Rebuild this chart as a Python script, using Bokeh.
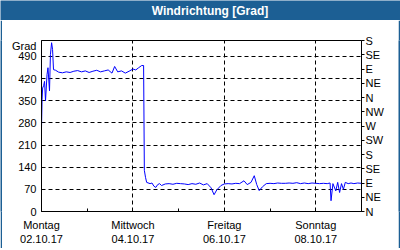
from bokeh.plotting import figure
from bokeh.models import LinearAxis, FixedTicker, Range1d
from bokeh.layouts import column, row
from bokeh.core.properties import value
from bokeh.embed import file_html
from bokeh.resources import INLINE

# ---- data (hours since Mon 02.10.17 00:00, wind direction in degrees) ----
hours = [0, 0.3, 0.6, 1.1, 1.6, 2.1, 2.9, 3.4, 4.2, 4.7, 5.3, 5.8, 6.3, 7.4,
         9, 11, 13, 15, 17, 19, 21, 23, 25, 27, 29, 31, 33, 35, 37, 38.4,
         40, 42, 44, 46, 48, 49.5, 51, 52.6, 53.6, 54, 54.6, 55.2, 57, 58,
         59, 60, 61, 62, 63, 65, 67, 69, 71, 73, 75, 77, 79, 81, 83, 85, 87,
         89, 90.6, 92, 94.2, 96, 98, 100, 102, 104, 106.3, 108, 110, 111.7,
         113, 114.3, 116, 118, 120, 122, 124, 126, 128, 130, 132, 134, 136,
         138, 140, 142, 144, 146, 148, 150, 151.5, 152, 153, 154.5, 155.5,
         156.5, 157.5, 158.5, 159.5, 161, 162.5, 164, 166, 168]
degrees = [263, 353, 390, 397, 411, 349, 432, 454, 381, 496, 533, 512, 448, 446,
           440, 438, 441, 439, 443, 445, 441, 444, 439, 443, 446, 441, 444, 447,
           437, 458, 441, 444, 437, 443, 450, 447, 454, 461, 461, 130, 108, 92,
           88, 90, 80, 76, 85, 88, 82, 87, 88, 86, 89, 88, 87, 85, 88, 86, 90,
           84, 88, 75, 53, 68, 82, 87, 88, 87, 89, 88, 97, 85, 92, 113, 85, 66,
           78, 88, 89, 88, 90, 89, 89, 90, 89, 91, 88, 90, 88, 90, 89, 88, 89,
           88, 90, 34, 88, 65, 92, 60, 88, 70, 92, 88, 90, 88, 90, 89]

x_major = [0, 48, 96, 144]
x_minor = [24, 72, 120, 168]
x_labels = ["Montag\n02.10.17", "Mittwoch\n04.10.17", "Freitag\n06.10.17", "Sonntag\n08.10.17"]
y_ticks = [0, 70, 140, 210, 280, 350, 420, 490]
y_title_pos = 524
dir_ticks = [0, 45, 90, 135, 180, 225, 270, 315, 360, 405, 450, 495, 540]
dir_labels = ["N", "NE", "E", "SE", "S", "SW", "W", "NW", "N", "NE", "E", "SE", "S"]
title_text = "Windrichtung [Grad]"
y_title = "Grad"

FONT = "Liberation Sans"
BLUE = "#1c5f94"


def bar(w, h):
    b = figure(width=w, height=h, output_backend="svg", toolbar_location=None,
               x_axis_type=None, y_axis_type=None, min_border=0,
               x_range=Range1d(0, max(w, 1)), y_range=Range1d(0, max(h, 1)),
               background_fill_color=BLUE, border_fill_color=BLUE,
               outline_line_color=None)
    b.grid.visible = False
    return b


# title bar
top = bar(400, 20)
top.text(x=[209.5], y=[10], text=[title_text], text_align="center",
         text_baseline="middle", text_color="white",
         text_font=value(FONT), text_font_size="12px", text_font_style="bold")

p = figure(width=396, height=228, output_backend="svg", toolbar_location=None,
           x_range=Range1d(0, 168), y_range=Range1d(0, 540),
           min_border_left=39, min_border_right=37, min_border_top=20,
           min_border_bottom=37, background_fill_color="white",
           border_fill_color="white", outline_line_color="black")

p.line(hours, degrees, line_color="#0000ff", line_width=1)

# x axis
xa = p.xaxis[0]
xa.ticker = FixedTicker(ticks=x_major, minor_ticks=x_minor)
xa.major_label_overrides = {t: l for t, l in zip(x_major, x_labels)}
xa.major_tick_in = 3
xa.major_tick_out = 0
xa.minor_tick_in = 3
xa.minor_tick_out = 0
xa.major_label_standoff = 7
xa.major_label_text_font = FONT
xa.major_label_text_font_size = "11px"
xa.major_label_text_color = "black"
xa.axis_line_color = "black"

# left axis (unit title shown as top label)
ya = p.yaxis[0]
ya.ticker = FixedTicker(ticks=y_ticks + [y_title_pos])
ya.major_label_overrides = {y_title_pos: y_title}
ya.major_tick_in = 0
ya.major_tick_out = 0
ya.minor_tick_line_color = None
ya.major_label_standoff = 5
ya.major_label_text_font = FONT
ya.major_label_text_font_size = "11px"
ya.major_label_text_color = "black"
ya.axis_line_color = "black"

# right axis (compass directions)
ra = LinearAxis(ticker=FixedTicker(ticks=dir_ticks),
                major_label_overrides={t: l for t, l in zip(dir_ticks, dir_labels)})
ra.major_tick_in = 0
ra.major_tick_out = 3
ra.minor_tick_line_color = None
ra.major_label_standoff = 1
ra.major_label_text_font = FONT
ra.major_label_text_font_size = "11px"
ra.major_label_text_color = "black"
ra.axis_line_color = "black"
p.add_layout(ra, "right")

# grids
p.xgrid[0].ticker = FixedTicker(ticks=x_major[1:])
p.ygrid[0].ticker = FixedTicker(ticks=y_ticks[1:])
for g in (p.xgrid[0], p.ygrid[0]):
    g.grid_line_color = "black"
    g.grid_line_dash = "4 3"
    g.grid_line_width = 1

layout = column(top, row(bar(2, 228), p, bar(2, 228)), bar(400, 2))

open("out.html", "w").write(file_html(layout, INLINE))
